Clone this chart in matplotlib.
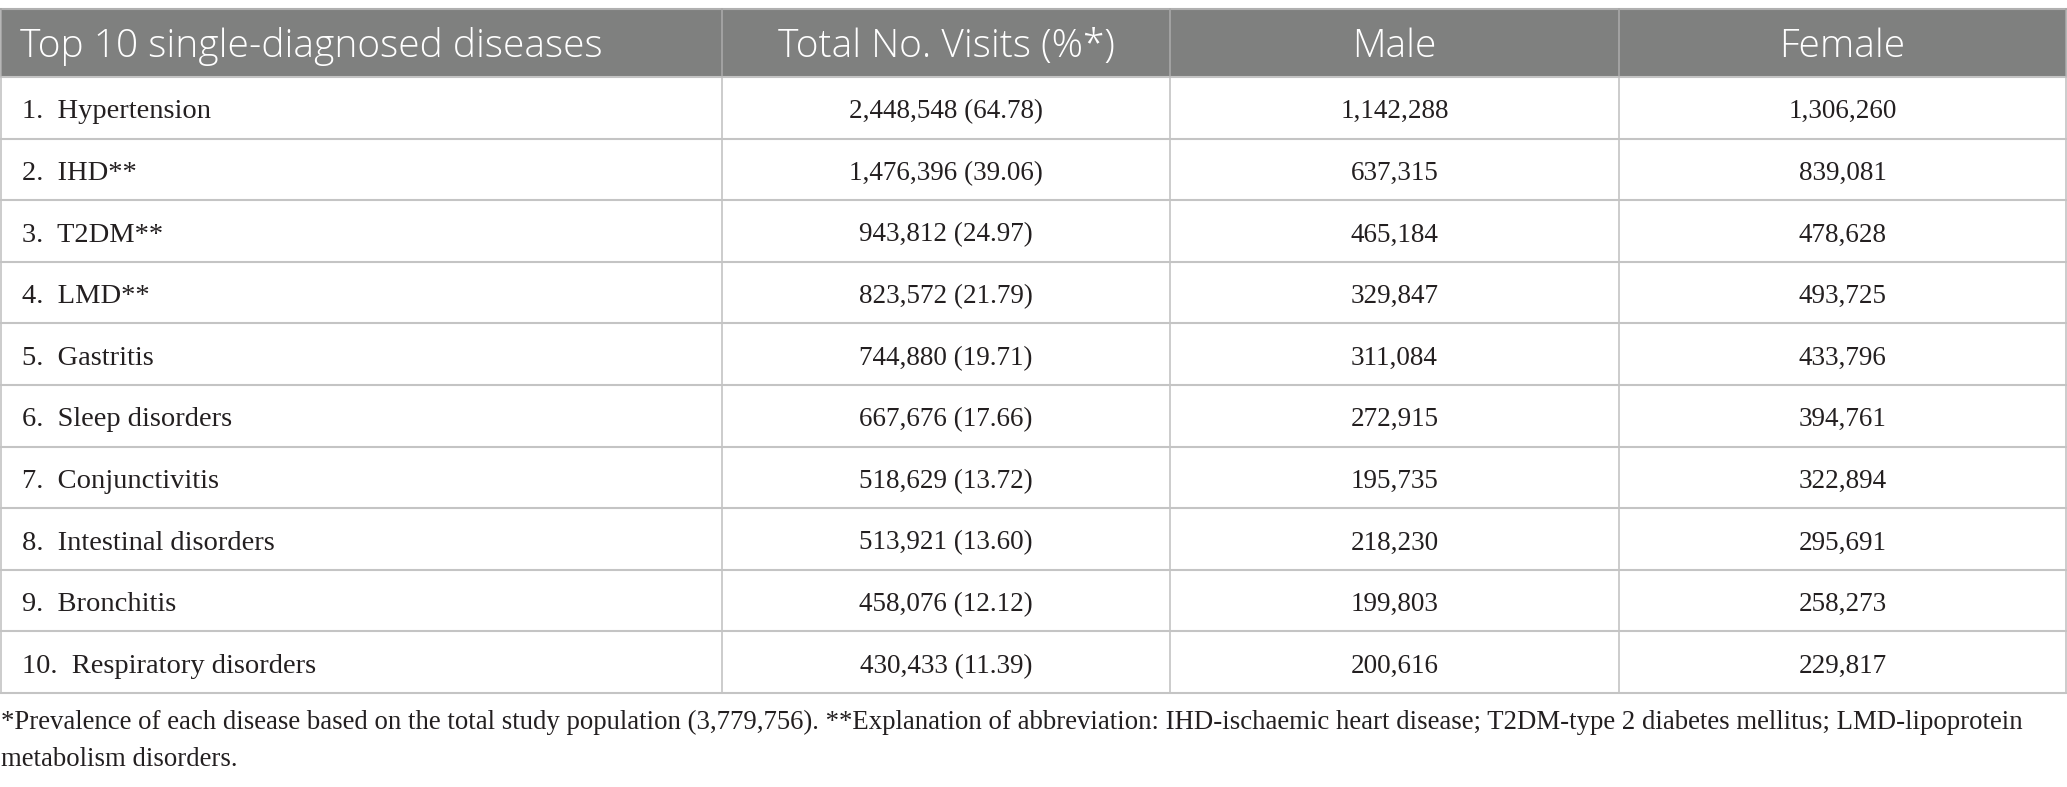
import matplotlib.pyplot as plt
from matplotlib.patches import Rectangle

# table contents
headers = ["Top 10 single-diagnosed diseases", "Total No. Visits (%*)", "Male", "Female"]
diseases = ["Hypertension", "IHD**", "T2DM**", "LMD**", "Gastritis", "Sleep disorders",
            "Conjunctivitis", "Intestinal disorders", "Bronchitis", "Respiratory disorders"]
total_visits = ["2,448,548", "1,476,396", "943,812", "823,572", "744,880",
                "667,676", "518,629", "513,921", "458,076", "430,433"]
percent = ["64.78", "39.06", "24.97", "21.79", "19.71", "17.66", "13.72", "13.60", "12.12", "11.39"]
male = ["1,142,288", "637,315", "465,184", "329,847", "311,084",
        "272,915", "195,735", "218,230", "199,803", "200,616"]
female = ["1,306,260", "839,081", "478,628", "493,725", "433,796",
          "394,761", "322,894", "295,691", "258,273", "229,817"]
footnote = ("*Prevalence of each disease based on the total study population (3,779,756). "
            "**Explanation of abbreviation: IHD-ischaemic heart disease; T2DM-type 2 diabetes mellitus; LMD-lipoprotein\n"
            "metabolism disorders.")

W, H = 2067, 787
fig = plt.figure(figsize=(W / 100, H / 100), dpi=100)
ax = fig.add_axes([0, 0, 1, 1])
ax.set_xlim(0, W)
ax.set_ylim(H, 0)
ax.axis("off")

# layout in pixels
col_edges = [1, 722, 1170, 1619, 2066]
top, head_bot, row_h = 8.5, 77, 61.6
n = len(diseases)
bottom = head_bot + n * row_h

header_bg = "#7f807f"
grid = "#c4c4c4"
txt = "#231f20"
serif = "Liberation Serif"
sans = "Open Sans"

ax.add_patch(Rectangle((col_edges[0], top), col_edges[-1] - col_edges[0], head_bot - top,
                       facecolor=header_bg, edgecolor="none"))

# horizontal lines
ax.plot([col_edges[0], col_edges[-1]], [top, top], color="#b0b0b0", lw=1.5)
for i in range(n + 1):
    y = head_bot + i * row_h
    ax.plot([col_edges[0], col_edges[-1]], [y, y], color=grid, lw=1.5)
# vertical lines
for x in col_edges:
    ax.plot([x, x], [top, head_bot], color="#a8a8a8", lw=1.2)
    ax.plot([x, x], [head_bot, bottom], color=grid, lw=1.2)

# header text
hy = (top + head_bot) / 2 + 4
ax.text(20, hy, headers[0], color="white", fontsize=28, family=sans, weight="light",
        va="center", ha="left")
for j in range(1, 4):
    cx = (col_edges[j] + col_edges[j + 1]) / 2
    ax.text(cx, hy, headers[j], color="white", fontsize=28, family=sans, weight="light",
            va="center", ha="center")

# body rows
for i in range(n):
    cy = head_bot + (i + 0.5) * row_h + 4
    ax.text(22, cy, f"{i + 1}.  {diseases[i]}", color=txt, fontsize=20.5, family=serif,
            va="center", ha="left")
    vals = [f"{total_visits[i]} ({percent[i]})", male[i], female[i]]
    for j, v in enumerate(vals, start=1):
        cx = (col_edges[j] + col_edges[j + 1]) / 2
        ax.text(cx, cy, v, color=txt, fontsize=19.5, family=serif, va="center", ha="center")

ax.text(1, bottom + 17, footnote, color=txt, fontsize=19.3, family=serif,
        va="top", ha="left", linespacing=1.65)

fig.savefig("out.png", dpi=100)
